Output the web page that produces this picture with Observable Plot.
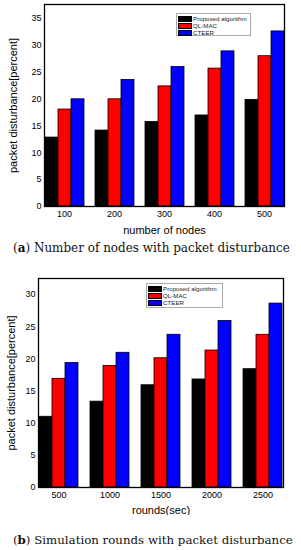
<!DOCTYPE html>
<html>
<head>
<meta charset="utf-8">
<script src="https://cdn.jsdelivr.net/npm/d3@7"></script>
<script src="https://cdn.jsdelivr.net/npm/@observablehq/plot@0.6"></script>
<style>
  body { margin: 0; width: 301px; height: 550px; position: relative; background: #fff; overflow: hidden; }
  .chart { position: absolute; left: 0; }
  svg g[aria-label$="axis label"] { font-size: 11px; }
  .caption { position: absolute; left: 13px; font-family: "DejaVu Serif", "Liberation Serif", serif; font-size: 12px; color: #111; white-space: nowrap; }
  .legend { position: absolute; border: 1px solid #aaa; background: #fff; font-family: "Liberation Sans", Arial, sans-serif; font-size: 6.2px; color: #222; padding: 1px 1px 1px 1px; box-sizing: border-box; }
  .legend .row { display: flex; align-items: center; height: 7px; }
  .legend .sw { width: 14px; height: 6px; border: 0.5px solid #000; box-sizing: border-box; margin-right: 1px; }
</style>
</head>
<body>
<div id="chartA" class="chart" style="top:0px"></div>
<div id="legendA" class="legend" style="left:176px; top:13px; width:75px; height:23px"></div>
<div id="capA" class="caption" style="top:241px">(<b>a</b>) Number of nodes with packet disturbance</div>
<div id="chartB" class="chart" style="top:270px"></div>
<div id="legendB" class="legend" style="left:146px; top:283px; width:77px; height:25px"></div>
<div id="capB" class="caption" style="top:533px">(<b>b</b>) Simulation rounds with packet disturbance</div>
<script>
const series = ["Proposed algorithm", "QL-MAC", "CTEER"];
const seriesColors = ["#000000", "#ff0000", "#0000ff"];

const nodes = ["100", "200", "300", "400", "500"];
const nodesProposed = [12.8, 14.1, 15.7, 16.9, 19.8];
const nodesQLMAC = [18.0, 19.9, 22.3, 25.6, 27.9];
const nodesCTEER = [19.9, 23.5, 25.9, 28.8, 32.5];
const nodesYTicks = [0, 5, 10, 15, 20, 25, 30, 35];

const rounds = ["500", "1000", "1500", "2000", "2500"];
const roundsProposed = [11.0, 13.35, 15.9, 16.8, 18.4];
const roundsQLMAC = [16.9, 18.9, 20.1, 21.3, 23.75];
const roundsCTEER = [19.35, 20.95, 23.75, 25.9, 28.6];
const roundsYTicks = [0, 5, 10, 15, 20, 25, 30];

function toRows(cats, arrays) {
  const rows = [];
  cats.forEach((c, i) => series.forEach((s, j) => rows.push({cat: c, series: s, value: arrays[j][i]})));
  return rows;
}

function chart(cats, arrays, cfg) {
  return Plot.plot({
    width: 301,
    height: cfg.height,
    marginTop: cfg.mt,
    marginBottom: cfg.mb,
    marginLeft: cfg.ml,
    marginRight: cfg.mr,
    style: {fontFamily: "'Liberation Sans', Arial, sans-serif", fontSize: "9px", color: "#000", background: "#fff"},
    fx: {domain: cats, axis: "bottom", paddingInner: 0.2, paddingOuter: 0.09, tickSize: 0, tickPadding: 4,
         label: cfg.xLabel, labelAnchor: "center", labelOffset: cfg.xLabelOffset},
    x: {domain: series, axis: null, padding: 0},
    y: {domain: cfg.yDomain, ticks: cfg.yTicks, tickSize: 0, tickPadding: 3,
        label: cfg.yLabel, labelAnchor: "center", labelArrow: "none", labelOffset: cfg.yLabelOffset},
    color: {domain: series, range: seriesColors},
    marks: [
      Plot.barY(toRows(cats, arrays), {fx: "cat", x: "series", y: "value", fill: "series", stroke: "#000", strokeWidth: 0.8}),
      Plot.frame({facet: "super", stroke: "#000", strokeWidth: 1.3})
    ]
  });
}

document.getElementById("chartA").append(chart(nodes, [nodesProposed, nodesQLMAC, nodesCTEER], {
  height: 234, mt: 4, mb: 28, ml: 39, mr: 13, yDomain: [0, 37.5], yTicks: nodesYTicks,
  xLabel: "number of nodes", xLabelOffset: 27, yLabel: "packet disturbance[percent]", yLabelOffset: 35
}));
document.getElementById("chartB").append(chart(rounds, [roundsProposed, roundsQLMAC, roundsCTEER], {
  height: 245, mt: 8, mb: 28, ml: 32, mr: 13, yDomain: [0, 32.5], yTicks: roundsYTicks,
  xLabel: "rounds(sec)", xLabelOffset: 26, yLabel: "packet disturbance[percent]", yLabelOffset: 31
}));

function legend(id) {
  const el = document.getElementById(id);
  series.forEach((s, i) => {
    const row = document.createElement("div");
    row.className = "row";
    const sw = document.createElement("div");
    sw.className = "sw";
    sw.style.background = seriesColors[i];
    const t = document.createElement("span");
    t.textContent = s;
    row.append(sw, t);
    el.append(row);
  });
}
legend("legendA");
legend("legendB");

function fitCaption(id, targetWidth) {
  const el = document.getElementById(id);
  const w = el.getBoundingClientRect().width;
  el.style.fontSize = (12 * targetWidth / w) + "px";
}
fitCaption("capA", 277);
fitCaption("capB", 280);
</script>
</body>
</html>
